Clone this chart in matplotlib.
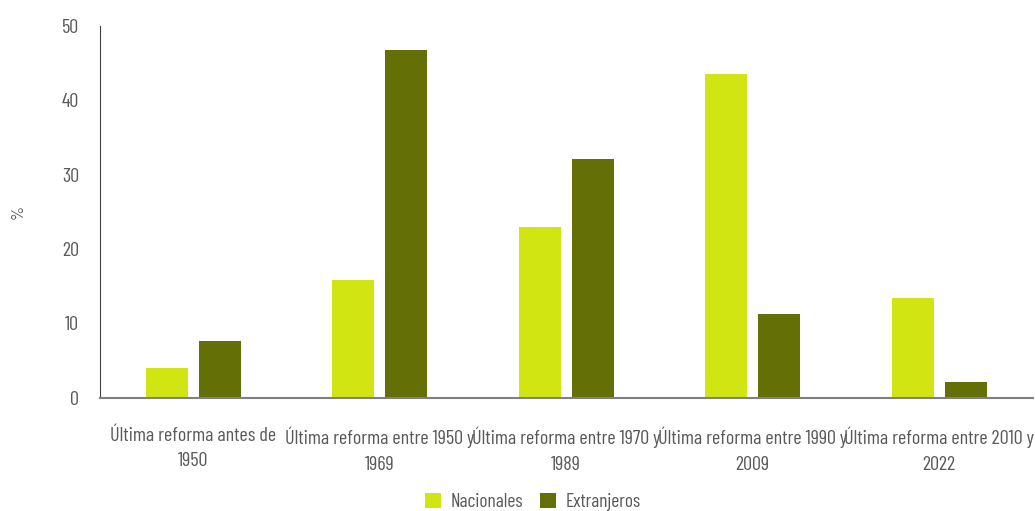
import numpy as np
import matplotlib.pyplot as plt

plt.rcParams['font.family'] = ['Barlow Condensed', 'Asap Condensed', 'DejaVu Sans']

categorias = ['Última reforma antes de\n1950', 'Última reforma entre 1950 y\n1969',
              'Última reforma entre 1970 y\n1989', 'Última reforma entre 1990 y\n2009',
              'Última reforma entre 2010 y\n2022']
nacionales = [4.0, 15.8, 22.9, 43.6, 13.4]
extranjeros = [7.6, 46.8, 32.1, 11.2, 2.1]

gris = '#595959'
fig = plt.figure(figsize=(10.35, 5.11), dpi=100)
ax = fig.add_axes([100/1035, 1-397.5/511, 932.5/1035, 371.5/511])

x = np.arange(len(categorias))
w = 0.225
ax.bar(x - 0.142, nacionales, w, color='#D0E512', label='Nacionales')
ax.bar(x + 0.142, extranjeros, w, color='#647005', label='Extranjeros')

ax.set_xlim(-0.5, 4.5)
ax.set_ylim(0, 50)
ax.set_yticks(range(0, 51, 10))
ax.set_xticks(x)
ax.set_xticklabels(categorias, fontsize=14.5, color=gris, linespacing=1.55)
ax.tick_params(axis='y', length=0, pad=15, labelsize=14.5, labelcolor=gris)
ax.tick_params(axis='x', length=0, pad=21)
ax.set_ylabel('%', fontsize=13, color=gris)
ax.yaxis.set_label_coords(-0.08, 0.5)

for s in ['top', 'right']:
    ax.spines[s].set_visible(False)
ax.spines['left'].set_color('#404040')
ax.spines['bottom'].set_color('#808080')
ax.spines['bottom'].set_linewidth(1.5)

fig.legend(loc='lower center', bbox_to_anchor=(0.515, -0.035), ncol=2, frameon=False,
           fontsize=14, labelcolor=gris, handlelength=0.8, handleheight=0.8,
           columnspacing=0.9, handletextpad=0.5)

fig.savefig('out.png', dpi=100)
